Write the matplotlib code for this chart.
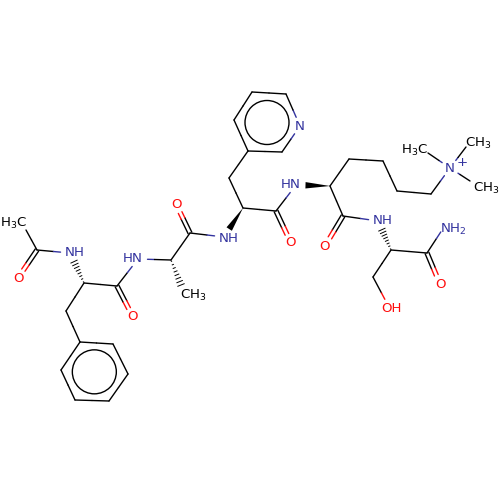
import numpy as np
import matplotlib
matplotlib.use("Agg")
import matplotlib.pyplot as plt

BLUE = "#33339f"
RED = "#ff0d0d"

# atom name -> pixel position
atom_names = ["me1", "c1", "o1", "n1", "ca1", "c2", "o2", "cb1",
              "p1", "p2", "p3", "p4", "p5", "p6",
              "n2", "ca2", "me2", "c3", "o3", "n3", "ca3", "c4", "o4", "cb3",
              "y1", "y2", "y3", "y4", "y5", "y6",
              "n4", "ca4", "c5", "o5", "n5", "ca5", "c6", "o6", "n6", "cb5", "o7",
              "k1", "k2", "k3", "k4", "n7", "me3", "me4", "me5"]
atom_x = [26, 37, 18, 70, 84, 117, 133, 66,
          80, 113, 128, 109, 75, 61,
          138, 171, 181, 190, 176, 224, 243, 276, 291, 229,
          248, 282, 300, 286, 252, 234,
          296, 330, 343, 325, 378, 391, 427, 440, 446, 373, 390,
          349, 383, 397, 431, 450, 428, 466, 470]
atom_y = [230, 250, 278, 253, 283, 286, 317, 311,
          342, 344, 374, 401, 400, 370,
          259, 260, 285, 233, 204, 237, 208, 211, 243, 178,
          151, 152, 126, 94, 92, 120,
          185, 186, 216, 246, 221, 250, 253, 284, 224, 277, 309,
          159, 161, 191, 194, 168, 153, 147, 181]

single_bonds = [("me1", "c1"), ("c1", "n1"), ("ca1", "c2"), ("ca1", "cb1"),
                ("cb1", "p1"), ("c2", "n2"), ("n2", "ca2"), ("ca2", "c3"), ("c3", "n3"),
                ("ca3", "c4"), ("ca3", "cb3"), ("cb3", "y1"), ("c4", "n4"),
                ("ca4", "c5"), ("c5", "n5"), ("ca5", "c6"),
                ("c6", "n6"), ("ca5", "cb5"), ("cb5", "o7"), ("ca4", "k1"), ("k1", "k2"),
                ("k2", "k3"), ("k3", "k4"), ("k4", "n7"), ("n7", "me3"), ("n7", "me4"),
                ("n7", "me5"),
                ("p1", "p2"), ("p2", "p3"), ("p3", "p4"), ("p4", "p5"), ("p5", "p6"), ("p6", "p1"),
                ("y1", "y2"), ("y2", "y3"), ("y3", "y4"), ("y4", "y5"), ("y5", "y6"), ("y6", "y1")]
double_bonds = [("c1", "o1"), ("c2", "o2"), ("c3", "o3"), ("c4", "o4"), ("c5", "o5"), ("c6", "o6")]
solid_wedges = [("ca3", "n3"), ("ca4", "n4")]
hash_wedges = [("ca1", "n1"), ("ca2", "me2"), ("ca5", "n5")]
aromatic_rings = [("p1", "p2", "p3", "p4", "p5", "p6"), ("y1", "y2", "y3", "y4", "y5", "y6")]

labels = [("n1", "NH", BLUE, 75, 253), ("n2", "HN", BLUE, 133, 259), ("n3", "NH", BLUE, 229, 238),
          ("n4", "HN", BLUE, 291, 185), ("n5", "NH", BLUE, 383, 221), ("n6", "NH$_2$", BLUE, 453, 229),
          ("n7", "N", BLUE, 450, 168), ("y3", "N", BLUE, 300, 126),
          ("o1", "O", RED, 18, 278), ("o2", "O", RED, 133, 317), ("o3", "O", RED, 176, 204),
          ("o4", "O", RED, 291, 243), ("o5", "O", RED, 325, 246), ("o6", "O", RED, 440, 284),
          ("o7", "OH", RED, 392, 309),
          ("me1", "H$_3$C", "black", 14, 223), ("me2", "CH$_3$", "black", 193, 295),
          ("me3", "H$_3$C", "black", 415, 150), ("me4", "CH$_3$", "black", 478, 143),
          ("me5", "CH$_3$", "black", 486, 188)]

pos = {n: np.array([x, y], float) for n, x, y in zip(atom_names, atom_x, atom_y)}
colors = {a: c for a, t, c, lx, ly in labels if c != "black"}
trim = {a: 9.5 for a in colors}
trim["o7"] = 11.0


def segment(a, b):
    pa, pb = pos[a], pos[b]
    d = (pb - pa) / np.linalg.norm(pb - pa)
    return pa + d * trim.get(a, 0), (pa + pb) / 2, pb - d * trim.get(b, 0)


def draw_bond(ax, a, b, offset=0.0):
    start, mid, end = segment(a, b)
    d = (end - start) / np.linalg.norm(end - start)
    n = np.array([-d[1], d[0]]) * offset
    for p, q, name in ((start, mid, a), (mid, end, b)):
        ax.plot([p[0] + n[0], q[0] + n[0]], [p[1] + n[1], q[1] + n[1]],
                color=colors.get(name, "black"), lw=1.0, solid_capstyle="round")


fig = plt.figure(figsize=(5, 5), dpi=100)
ax = fig.add_axes([0, 0, 1, 1])
ax.set_xlim(0, 500)
ax.set_ylim(500, 0)
ax.axis("off")

for a, b in single_bonds:
    draw_bond(ax, a, b)
for a, b in double_bonds:
    draw_bond(ax, a, b, 2.0)
    draw_bond(ax, a, b, -2.0)

for a, b in solid_wedges:
    start, mid, end = segment(a, b)
    d = (end - start) / np.linalg.norm(end - start)
    n = np.array([-d[1], d[0]]) * 3.2
    ax.fill(*zip(start, end + n, end - n), color="black", lw=0)

for a, b in hash_wedges:
    start, mid, end = segment(a, b)
    d = (end - start) / np.linalg.norm(end - start)
    n = np.array([-d[1], d[0]])
    for t in np.linspace(0.05, 1.0, 8):
        p = start + (end - start) * t
        w = 3.4 * t
        ax.plot([p[0] - n[0] * w, p[0] + n[0] * w], [p[1] - n[1] * w, p[1] + n[1] * w],
                color="black", lw=0.7)

for ring in aromatic_rings:
    pts = np.array([pos[a] for a in ring])
    c = pts.mean(axis=0)
    ax.add_patch(plt.Circle(c, 22, fill=False, ec="black", lw=1.0))

for a, text, color, lx, ly in labels:
    ax.text(lx, ly, text, color=color, fontsize=9.6, ha="center", va="center")
ax.text(462, 162, "+", color=BLUE, fontsize=9.6, ha="center", va="center")

fig.savefig("out.png", dpi=100, facecolor="white")
